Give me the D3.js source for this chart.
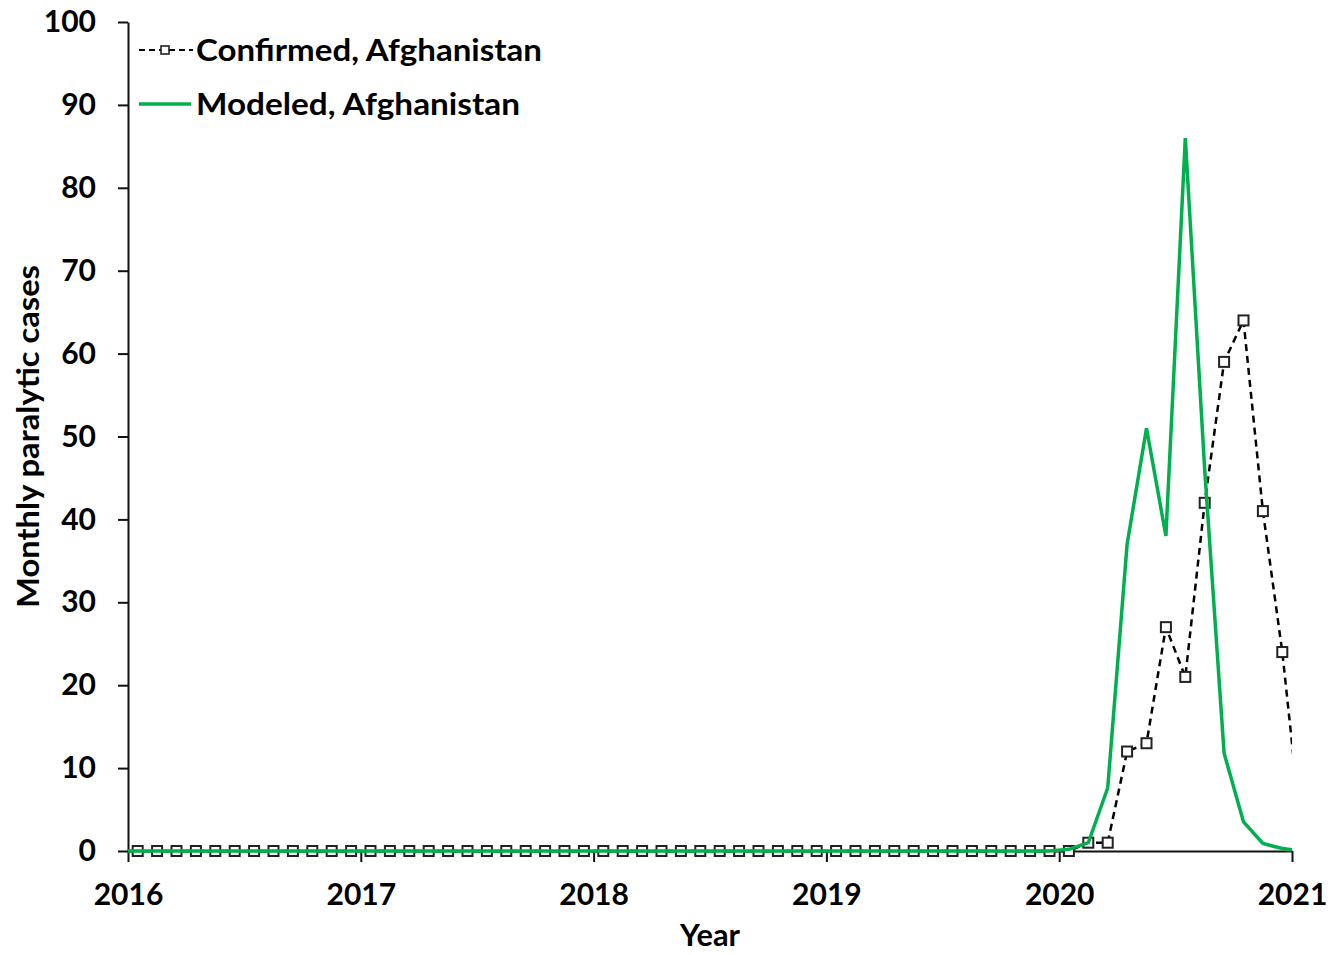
<!DOCTYPE html>
<html>
<head>
<meta charset="utf-8">
<script src="https://cdn.jsdelivr.net/npm/d3@7"></script>
<style>
  html, body { margin: 0; padding: 0; background: #ffffff; }
  svg { display: block; font-family: Lato, "Open Sans", sans-serif; font-weight: 700; }
</style>
</head>
<body>
<svg id="chart" width="1334" height="955"></svg>
<script>
// Monthly paralytic polio cases in Afghanistan, 2016-2020.
// Confirmed series starts January 2016; modeled series starts December 2015.
const confirmedStart = [2016, 0];
const confirmedCases = [
  0, 0, 0, 0, 0, 0, 0, 0, 0, 0, 0, 0,          // 2016
  0, 0, 0, 0, 0, 0, 0, 0, 0, 0, 0, 0,          // 2017
  0, 0, 0, 0, 0, 0, 0, 0, 0, 0, 0, 0,          // 2018
  0, 0, 0, 0, 0, 0, 0, 0, 0, 0, 0, 0,          // 2019
  0, 1, 1, 12, 13, 27, 21, 42, 59, 64, 41, 24, // 2020
  2                                            // Jan 2021
];

const modeledStart = [2015, 11];
const modeledCases = [
  0,                                                  // Dec 2015
  0, 0, 0, 0, 0, 0, 0, 0, 0, 0, 0, 0,                 // 2016
  0, 0, 0, 0, 0, 0, 0, 0, 0, 0, 0, 0,                 // 2017
  0, 0, 0, 0, 0, 0, 0, 0, 0, 0, 0, 0,                 // 2018
  0, 0, 0, 0, 0, 0, 0, 0, 0, 0, 0, 0,                 // 2019
  0.2, 1, 7.6, 37, 51, 38, 86, 46, 11.8, 3.5, 0.9, 0.3, // 2020
  0                                                   // Jan 2021
];

const yearTicks = [2016, 2017, 2018, 2019, 2020, 2021];
const caseTicks = [0, 10, 20, 30, 40, 50, 60, 70, 80, 90, 100];

const seriesNames = ["Confirmed, Afghanistan", "Modeled, Afghanistan"];
const axisTitles = { x: "Year", y: "Monthly paralytic cases" };

// Points sit at the middle of each month on a fractional-year axis.
function toPoints(start, values) {
  return values.map((v, i) => {
    const m = start[1] + i;
    return { t: start[0] + (m + 0.5) / 12, v: v };
  });
}
const confirmed = toPoints(confirmedStart, confirmedCases);
const modeled = toPoints(modeledStart, modeledCases);

const svg = d3.select("#chart");
const plot = { left: 128, right: 1292, top: 22, bottom: 851 };

const x = d3.scaleLinear().domain([2016, 2021]).range([plot.left, plot.right]);
const y = d3.scaleLinear().domain([0, 100]).range([plot.bottom, plot.top]);

const GREEN = "#00b04f";
const FONT_SIZE = 30;

svg.append("defs").append("clipPath").attr("id", "plot-clip")
  .append("rect")
  .attr("x", plot.left).attr("y", 0)
  .attr("width", plot.right - plot.left).attr("height", plot.bottom + 20);

// Axes
const yAxis = d3.axisLeft(y).tickValues(caseTicks).tickSize(10).tickSizeOuter(0).tickPadding(22);
const gy = svg.append("g").attr("transform", `translate(${plot.left},0)`).call(yAxis);
gy.select(".domain").attr("stroke", "#111").attr("stroke-width", 2);
gy.selectAll(".tick line").attr("stroke", "#111").attr("stroke-width", 2);
gy.selectAll(".tick text")
  .attr("font-size", FONT_SIZE).attr("font-family", "Lato, sans-serif")
  .attr("font-weight", 700).attr("fill", "#000");

const xAxis = d3.axisBottom(x).tickValues(yearTicks).tickFormat(d3.format("d"))
  .tickSize(11).tickSizeOuter(0).tickPadding(22);
const gx = svg.append("g").attr("transform", `translate(0,${plot.bottom})`).call(xAxis);
gx.select(".domain").attr("stroke", "#111").attr("stroke-width", 2);
gx.selectAll(".tick line").attr("stroke", "#111").attr("stroke-width", 2);
gx.selectAll(".tick text")
  .attr("font-size", FONT_SIZE).attr("font-family", "Lato, sans-serif")
  .attr("font-weight", 700).attr("fill", "#000");

// Axis titles
svg.append("text")
  .attr("x", (plot.left + plot.right) / 2).attr("y", 946)
  .attr("text-anchor", "middle").attr("font-size", FONT_SIZE).attr("fill", "#000")
  .attr("textLength", 60).attr("lengthAdjust", "spacingAndGlyphs")
  .text(axisTitles.x);
svg.append("text")
  .attr("transform", `translate(39,${(plot.top + plot.bottom) / 2}) rotate(-90)`)
  .attr("text-anchor", "middle").attr("font-size", FONT_SIZE).attr("fill", "#000")
  .attr("textLength", 343).attr("lengthAdjust", "spacingAndGlyphs")
  .text(axisTitles.y);

// Series
const line = d3.line().x(d => x(d.t)).y(d => y(d.v));
const series = svg.append("g").attr("clip-path", "url(#plot-clip)");

series.append("path").datum(confirmed)
  .attr("d", line).attr("fill", "none")
  .attr("stroke", "#000").attr("stroke-width", 2.5)
  .attr("stroke-dasharray", "7,5");

const MARK = 10;
series.selectAll("rect.marker")
  .data(confirmed.filter(d => d.t < 2021))
  .join("rect").attr("class", "marker")
  .attr("x", d => x(d.t) - MARK / 2).attr("y", d => y(d.v) - MARK / 2)
  .attr("width", MARK).attr("height", MARK)
  .attr("fill", "#fff").attr("stroke", "#222").attr("stroke-width", 2);

series.append("path").datum(modeled)
  .attr("d", line).attr("fill", "none")
  .attr("stroke", GREEN).attr("stroke-width", 3.5)
  .attr("stroke-linejoin", "miter");

// Legend
const legend = svg.append("g");
const rows = [
  { name: seriesNames[0], y: 50, type: "confirmed", width: 346 },
  { name: seriesNames[1], y: 104, type: "modeled", width: 324 }
];
rows.forEach(r => {
  if (r.type === "confirmed") {
    legend.append("line")
      .attr("x1", 139).attr("x2", 193).attr("y1", r.y).attr("y2", r.y)
      .attr("stroke", "#000").attr("stroke-width", 2.2).attr("stroke-dasharray", "6,4");
    legend.append("rect")
      .attr("x", 161).attr("y", r.y - 4).attr("width", 8).attr("height", 8)
      .attr("fill", "#fff").attr("stroke", "#222").attr("stroke-width", 1.6);
  } else {
    legend.append("line")
      .attr("x1", 139).attr("x2", 191).attr("y1", r.y).attr("y2", r.y)
      .attr("stroke", GREEN).attr("stroke-width", 3.5);
  }
  legend.append("text")
    .attr("x", 196).attr("y", r.y).attr("dy", "0.36em")
    .attr("font-size", FONT_SIZE).attr("fill", "#000")
    .attr("textLength", r.width).attr("lengthAdjust", "spacingAndGlyphs")
    .text(r.name);
});
</script>
</body>
</html>
